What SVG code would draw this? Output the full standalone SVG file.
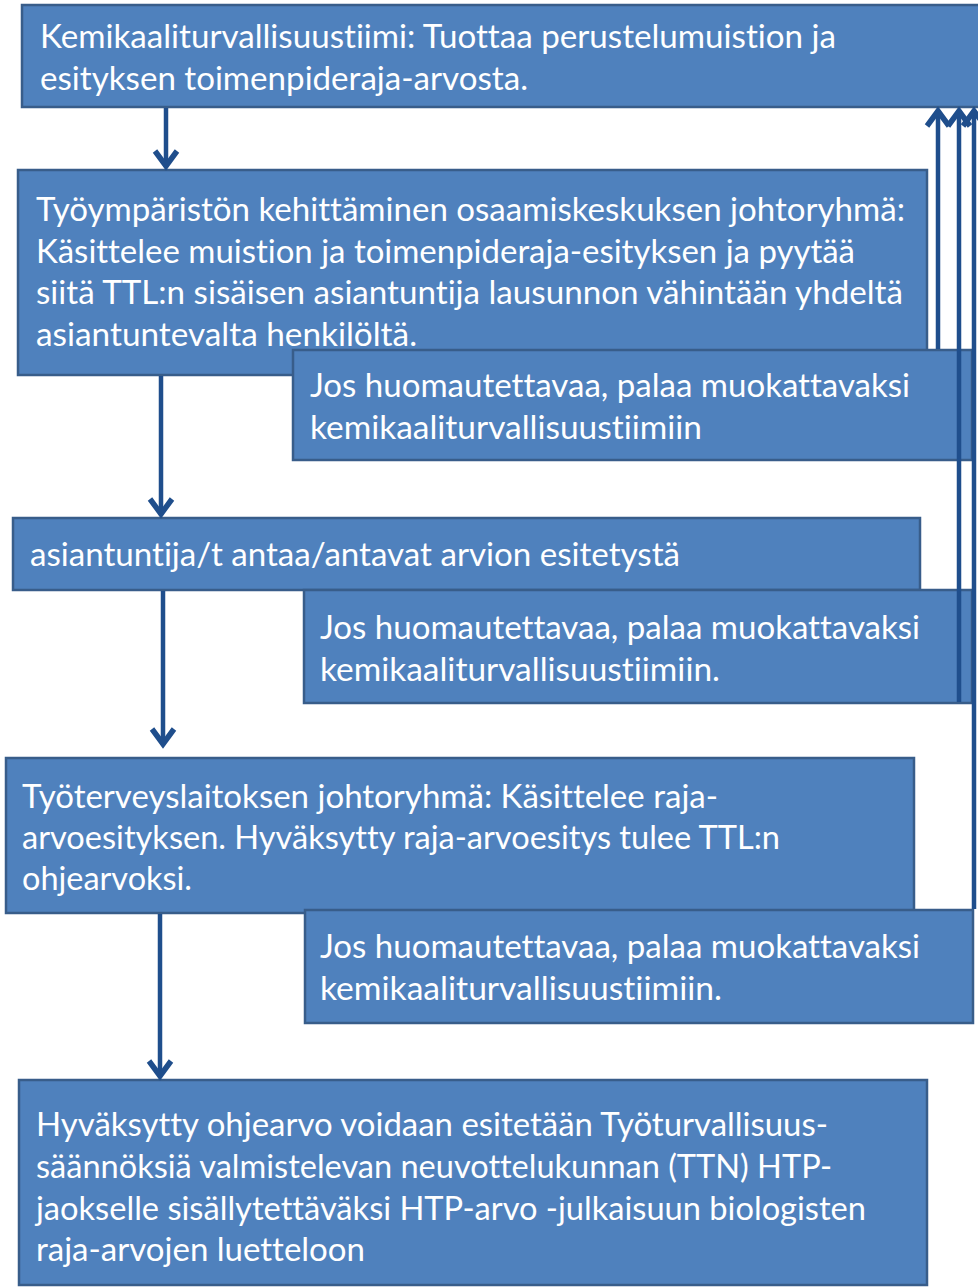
<svg xmlns="http://www.w3.org/2000/svg" width="978" height="1287" viewBox="0 0 978 1287">
<style>
.box{fill:#4F81BD;stroke:#385D8A;stroke-width:2.5}
.t{font-family:Lato,"Liberation Sans",sans-serif;font-size:32px;fill:#ffffff;font-variant-ligatures:none;font-feature-settings:"liga" 0}
.c{stroke:#1F4E8C;stroke-width:4.5;fill:none}
</style>
<defs>
<marker id="arr" markerUnits="userSpaceOnUse" markerWidth="36" markerHeight="36" viewBox="-20 -18 36 36" refX="0" refY="0" orient="auto">
<path d="M-16,-11 L-1,0 L-16,11" fill="none" stroke="#1F4E8C" stroke-width="5.5"/>
</marker>
</defs>
<rect width="978" height="1287" fill="#ffffff"/>
<g id="n1">
<rect class="box" x="22" y="5" width="960" height="102"/>
<text class="t" x="40" y="48" textLength="796" lengthAdjust="spacingAndGlyphs">Kemikaaliturvallisuustiimi: Tuottaa perustelumuistion ja</text>
<text class="t" x="40" y="90" textLength="488" lengthAdjust="spacingAndGlyphs">esityksen toimenpideraja-arvosta.</text>
</g>
<g id="n2">
<rect class="box" x="18" y="170" width="909" height="205"/>
<text class="t" x="36" y="221" textLength="869" lengthAdjust="spacingAndGlyphs">Työympäristön kehittäminen osaamiskeskuksen johtoryhmä:</text>
<text class="t" x="36" y="263" textLength="819" lengthAdjust="spacingAndGlyphs">Käsittelee muistion ja toimenpideraja-esityksen ja pyytää</text>
<text class="t" x="36" y="304" textLength="867" lengthAdjust="spacingAndGlyphs">siitä TTL:n sisäisen asiantuntija lausunnon vähintään yhdeltä</text>
<text class="t" x="36" y="346" textLength="381" lengthAdjust="spacingAndGlyphs">asiantuntevalta henkilöltä.</text>
</g>
<g id="n2b">
<rect class="box" x="293" y="350" width="679" height="110"/>
<text class="t" x="310" y="397" textLength="600" lengthAdjust="spacingAndGlyphs">Jos huomautettavaa, palaa muokattavaksi</text>
<text class="t" x="310" y="439" textLength="392" lengthAdjust="spacingAndGlyphs">kemikaaliturvallisuustiimiin</text>
</g>
<g id="n3">
<rect class="box" x="13" y="518" width="907" height="72"/>
<text class="t" x="30" y="566" textLength="650" lengthAdjust="spacingAndGlyphs">asiantuntija/t antaa/antavat arvion esitetystä</text>
</g>
<g id="n3b">
<rect class="box" x="304" y="590" width="668" height="113"/>
<text class="t" x="320" y="639" textLength="600" lengthAdjust="spacingAndGlyphs">Jos huomautettavaa, palaa muokattavaksi</text>
<text class="t" x="320" y="681" textLength="400" lengthAdjust="spacingAndGlyphs">kemikaaliturvallisuustiimiin.</text>
</g>
<g id="n4">
<rect class="box" x="6" y="758" width="908" height="155"/>
<text class="t" x="22" y="808" textLength="696" lengthAdjust="spacingAndGlyphs">Työterveyslaitoksen johtoryhmä: Käsittelee raja-</text>
<text class="t" x="22" y="849" textLength="758" lengthAdjust="spacingAndGlyphs">arvoesityksen. Hyväksytty raja-arvoesitys tulee TTL:n</text>
<text class="t" x="22" y="890" textLength="170" lengthAdjust="spacingAndGlyphs">ohjearvoksi.</text>
</g>
<g id="n4b">
<rect class="box" x="305" y="910" width="668" height="113"/>
<text class="t" x="320" y="958" textLength="600" lengthAdjust="spacingAndGlyphs">Jos huomautettavaa, palaa muokattavaksi</text>
<text class="t" x="320" y="1000" textLength="402" lengthAdjust="spacingAndGlyphs">kemikaaliturvallisuustiimiin.</text>
</g>
<g id="n5">
<rect class="box" x="19" y="1080" width="908" height="205"/>
<text class="t" x="36" y="1136" textLength="792" lengthAdjust="spacingAndGlyphs">Hyväksytty ohjearvo voidaan esitetään Työturvallisuus-</text>
<text class="t" x="36" y="1178" textLength="796" lengthAdjust="spacingAndGlyphs">säännöksiä valmistelevan neuvottelukunnan (TTN) HTP-</text>
<text class="t" x="36" y="1220" textLength="830" lengthAdjust="spacingAndGlyphs">jaokselle sisällytettäväksi HTP-arvo -julkaisuun biologisten</text>
<text class="t" x="36" y="1261" textLength="329" lengthAdjust="spacingAndGlyphs">raja-arvojen luetteloon</text>
</g>
<g id="connectors">
<line class="c" x1="166" y1="108" x2="166" y2="167" marker-end="url(#arr)"/>
<line class="c" x1="161" y1="376" x2="161" y2="515" marker-end="url(#arr)"/>
<line class="c" x1="163" y1="591" x2="163" y2="745" marker-end="url(#arr)"/>
<line class="c" x1="160" y1="914" x2="160" y2="1077" marker-end="url(#arr)"/>
<line class="c" x1="938" y1="349" x2="938" y2="110" marker-end="url(#arr)"/>
<line class="c" x1="959" y1="702" x2="959" y2="110" marker-end="url(#arr)"/>
<line class="c" x1="974" y1="909" x2="974" y2="110" marker-end="url(#arr)"/>
</g>
</svg>
